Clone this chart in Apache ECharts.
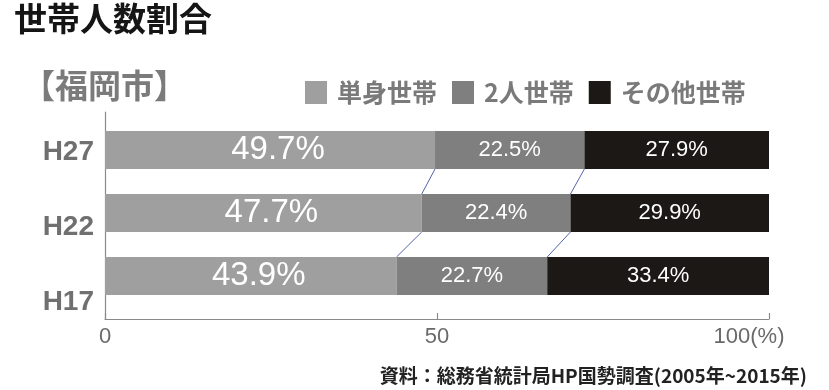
<!DOCTYPE html>
<html>
<head>
<meta charset="utf-8">
<script src="https://cdn.jsdelivr.net/npm/echarts@6/dist/echarts.min.js"></script>
<style>html,body{margin:0;padding:0;background:#fff}#c{width:829px;height:390px}</style>
</head>
<body>
<div id="c"></div>
<script>
const categories = ['H27', 'H22', 'H17'];
const seriesNames = ['単身世帯', '2人世帯', 'その他世帯'];
const single = [49.7, 47.7, 43.9];
const couple = [22.5, 22.4, 22.7];
const other = [27.9, 29.9, 33.4];
const xTickLabels = {0: '0', 50: '50', 100: '100(%)'};
const titleText = '世帯人数割合';
const subTitleText = '【福岡市】';
const sourceText = '資料：総務省統計局HP国勢調査(2005年~2015年)';

const JP = '"Noto Sans CJK JP", "Noto Sans", sans-serif';
const LAT = '"Liberation Sans", Arial, sans-serif';
const colors = ['#9e9f9e', '#7e7f7e', '#1b1816'];
const BAR_H = 38;

// connector lines between segment boundaries of adjacent bars
const connectors = [];
for (let i = 0; i < categories.length - 1; i++) {
  connectors.push([single[i], i, single[i + 1], i + 1]);
  connectors.push([single[i] + couple[i], i, single[i + 1] + couple[i + 1], i + 1]);
}

const chart = echarts.init(document.getElementById('c'), null, {renderer: 'canvas'});
const axisColor = '#8a8a8a';

chart.setOption({
  animation: false,
  backgroundColor: '#fff',
  title: [
    {text: titleText, left: 14, top: 2, padding: 0,
     textStyle: {fontSize: 33, fontWeight: 'bold', color: '#151515', fontFamily: JP}},
    {text: subTitleText, left: 22, top: 69, padding: 0,
     textStyle: {fontSize: 33, fontWeight: 'bold', color: '#7b7b7b', fontFamily: JP}},
    {text: sourceText, right: 22, top: 366, padding: 0,
     textStyle: {fontSize: 19, fontWeight: 'bold', color: '#222', fontFamily: JP}}
  ],
  legend: {
    left: 305, top: 80, padding: 0,
    itemWidth: 22, itemHeight: 23, itemGap: 15, icon: 'rect',
    data: seriesNames,
    textStyle: {fontSize: 25, fontWeight: 'bold', color: '#7a7a7a', fontFamily: JP, padding: [0, 0, 0, 5]}
  },
  grid: [
    {left: 105, right: 60, top: 118.5, height: 189},
    {left: 105, right: 60, top: 112, bottom: 71},
    {left: 105, right: 60, top: 114.5, height: 225}
  ],
  xAxis: [
    {gridIndex: 0, type: 'value', min: 0, max: 100, show: false},
    {gridIndex: 1, type: 'value', min: 0, max: 100, interval: 50,
     axisLine: {show: true, lineStyle: {color: axisColor, width: 1.2}},
     axisTick: {show: true, inside: true, length: 6, lineStyle: {color: axisColor, width: 1.2}},
     splitLine: {show: false},
     axisLabel: {
       showMinLabel: true, showMaxLabel: true,
       margin: 7, fontSize: 22, color: '#6a6a6a', fontFamily: LAT,
       formatter: function (v) {
         const t = xTickLabels[v];
         if (v === 100) return '{p|' + t + '}';
         return t;
       },
       rich: {p: {fontSize: 22, color: '#6a6a6a', fontFamily: LAT, padding: [0, 40, 0, 0]}}
     }},
    {gridIndex: 2, type: 'value', min: 0, max: 100, show: false}
  ],
  yAxis: [
    {gridIndex: 0, type: 'category', data: categories, inverse: true, show: false},
    {gridIndex: 1, type: 'value', min: 0, max: 1,
     axisLine: {show: true, lineStyle: {color: axisColor, width: 1.2}},
     axisTick: {show: false}, axisLabel: {show: false}, splitLine: {show: false}},
    {gridIndex: 2, type: 'category', data: categories, inverse: true,
     axisLine: {show: false}, axisTick: {show: false},
     axisLabel: {fontSize: 28, fontWeight: 'bold', color: '#707070', margin: 11, fontFamily: LAT}}
  ],
  series: [
    {name: seriesNames[0], type: 'bar', stack: 'total', xAxisIndex: 0, yAxisIndex: 0,
     barWidth: BAR_H, data: single, itemStyle: {color: colors[0]},
     label: {show: true, position: 'inside', offset: [8, 0], color: '#fff', fontSize: 33, fontFamily: LAT,
             formatter: p => p.value.toFixed(1) + '%'}},
    {name: seriesNames[1], type: 'bar', stack: 'total', xAxisIndex: 0, yAxisIndex: 0,
     barWidth: BAR_H, data: couple, itemStyle: {color: colors[1]},
     label: {show: true, position: 'inside', color: '#fff', fontSize: 22, fontFamily: LAT,
             formatter: p => p.value.toFixed(1) + '%'}},
    {name: seriesNames[2], type: 'bar', stack: 'total', xAxisIndex: 0, yAxisIndex: 0,
     barWidth: BAR_H, data: other, itemStyle: {color: colors[2]},
     label: {show: true, position: 'inside', color: '#fff', fontSize: 22, fontFamily: LAT,
             formatter: p => p.value.toFixed(1) + '%'}},
    {name: 'connectors', type: 'custom', xAxisIndex: 0, yAxisIndex: 0, clip: false,
     encode: {x: [0, 2], y: [1, 3]}, data: connectors, silent: true,
     renderItem: function (params, api) {
       const p1 = api.coord([api.value(0), api.value(1)]);
       const p2 = api.coord([api.value(2), api.value(3)]);
       return {type: 'line',
               shape: {x1: p1[0], y1: p1[1] + BAR_H / 2, x2: p2[0], y2: p2[1] - BAR_H / 2},
               style: {stroke: '#3f52a0', lineWidth: 0.9}};
     }}
  ]
});
</script>
</body>
</html>
